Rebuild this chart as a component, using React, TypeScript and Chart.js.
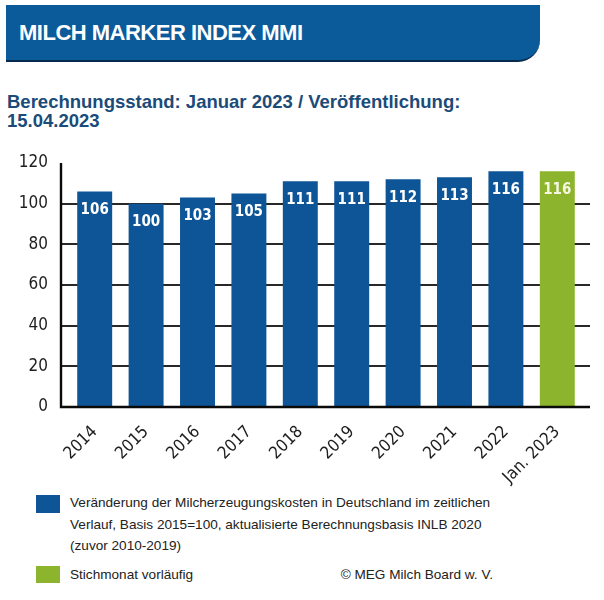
import React, { useEffect, useRef } from 'react';
import { Chart, registerables } from 'chart.js';

Chart.register(...registerables);

const categories = ['2014', '2015', '2016', '2017', '2018', '2019', '2020', '2021', '2022', 'Jan. 2023'];
const indexValues = [106, 100, 103, 105, 111, 111, 112, 113, 116, 116];
const seriesKinds = ['final', 'final', 'final', 'final', 'final', 'final', 'final', 'final', 'final', 'provisional'];
const yTickValues = [0, 20, 40, 60, 80, 100, 120];

const BLUE = '#0d5597';
const GREEN = '#8cb42c';
const CHART_FONT = '"DejaVu Sans Condensed", "DejaVu Sans", sans-serif';

function drawGrid(chart: any) {
  const { ctx, chartArea, scales } = chart;
  const y = scales.y;
  const left = chartArea.left - 8;
  const right = chartArea.right + 7;
  ctx.save();
  ctx.strokeStyle = 'rgb(40,40,40)';
  ctx.lineWidth = 2;
  yTickValues.forEach((v) => {
    if (v === yTickValues[0] || v === yTickValues[yTickValues.length - 1]) return;
    const py = Math.round(y.getPixelForValue(v));
    ctx.beginPath();
    ctx.moveTo(left, py);
    ctx.lineTo(right, py);
    ctx.stroke();
  });
  ctx.restore();
}

function drawAxes(chart: any) {
  const { ctx, chartArea, scales } = chart;
  const y = scales.y;
  const left = Math.round(chartArea.left - 8);
  const right = chartArea.right + 7;
  const y0 = Math.round(y.getPixelForValue(yTickValues[0]));
  const yTop = y.getPixelForValue(yTickValues[yTickValues.length - 1]);
  ctx.save();
  ctx.strokeStyle = 'rgb(10,10,10)';
  ctx.lineWidth = 2.4;
  ctx.beginPath();
  ctx.moveTo(left, yTop);
  ctx.lineTo(left, y0);
  ctx.lineTo(right, y0);
  ctx.stroke();
  ctx.restore();
}

function drawValueLabels(chart: any) {
  const { ctx } = chart;
  const meta = chart.getDatasetMeta(0);
  ctx.save();
  ctx.font = `bold 15px ${CHART_FONT}`;
  ctx.textAlign = 'center';
  ctx.textBaseline = 'middle';
  meta.data.forEach((el: any, i: number) => {
    ctx.fillStyle = seriesKinds[i] === 'provisional' ? '#f6f6e2' : '#ffffff';
    ctx.fillText(String(indexValues[i]), el.x, el.y + 18.5);
  });
  ctx.restore();
}

const gridPlugin = {
  id: 'customGrid',
  beforeDatasetsDraw(chart: any) {
    drawGrid(chart);
  },
  afterDatasetsDraw(chart: any) {
    drawValueLabels(chart);
  },
  afterDraw(chart: any) {
    drawAxes(chart);
  },
};

function MmiChart() {
  const ref = useRef<HTMLCanvasElement | null>(null);
  useEffect(() => {
    if (!ref.current) return;
    const chart = new Chart(ref.current, {
      type: 'bar',
      data: {
        labels: categories,
        datasets: [
          {
            data: indexValues,
            backgroundColor: seriesKinds.map((k) => (k === 'provisional' ? GREEN : BLUE)),
            barPercentage: 0.68,
            categoryPercentage: 1,
          },
        ],
      },
      options: {
        animation: false,
        responsive: false,
        maintainAspectRatio: false,
        layout: { padding: { top: 23, right: 21, left: 0, bottom: 0 } },
        plugins: {
          legend: { display: false },
          tooltip: { enabled: false },
          title: { display: false },
        },
        scales: {
          x: {
            grid: { display: false, drawTicks: false },
            border: { display: false },
            ticks: {
              minRotation: 45,
              maxRotation: 45,
              padding: 15,
              color: '#1e1e1e',
              font: { family: CHART_FONT, size: 17 },
            },
            afterFit: (s: any) => {
              s.height = 83;
            },
          },
          y: {
            min: yTickValues[0],
            max: yTickValues[yTickValues.length - 1],
            ticks: {
              stepSize: 20,
              padding: 21,
              color: '#1e1e1e',
              font: { family: CHART_FONT, size: 17 },
            },
            grid: { display: false, drawTicks: false },
            border: { display: false },
            afterFit: (s: any) => {
              s.width = 69;
              s.paddingTop = 0;
              s.paddingBottom = 0;
            },
          },
        },
      },
      plugins: [gridPlugin],
    } as any);
    return () => chart.destroy();
  }, []);
  return <canvas ref={ref} width={604} height={350} style={{ display: 'block', width: 604, height: 350 }} />;
}

export default function App() {
  const legendFont = '"Liberation Sans", Arial, sans-serif';
  return (
    <div style={{ position: 'absolute', left: 0, top: 0, width: 604, height: 600, background: '#fff', overflow: 'hidden' }}>
      <div
        style={{
          position: 'absolute',
          left: 6,
          top: 5,
          width: 534,
          height: 55,
          background: '#0b5a9a',
          borderBottom: '2px solid #072a4c',
          borderBottomRightRadius: 22,
        }}
      >
        <div
          style={{
            position: 'absolute',
            left: 13,
            top: 15,
            color: '#fff',
            fontFamily: '"Liberation Sans", Arial, sans-serif',
            fontWeight: 'bold',
            fontSize: 22,
            letterSpacing: -0.5,
            lineHeight: '26px',
            whiteSpace: 'nowrap',
          }}
        >
          MILCH MARKER INDEX MMI
        </div>
      </div>
      <div
        style={{
          position: 'absolute',
          left: 7,
          top: 92,
          color: '#1b4b78',
          fontFamily: '"Liberation Sans", Arial, sans-serif',
          fontWeight: 'bold',
          fontSize: 18.5,
          lineHeight: '19px',
          whiteSpace: 'nowrap',
        }}
      >
        Berechnungsstand: Januar 2023 / Veröffentlichung:
        <br />
        15.04.2023
      </div>
      <div style={{ position: 'absolute', left: 0, top: 140 }}>
        <MmiChart />
      </div>
      <div style={{ position: 'absolute', left: 36, top: 495, width: 24, height: 18, background: BLUE }} />
      <div
        style={{
          position: 'absolute',
          left: 70,
          top: 492,
          color: '#222',
          fontFamily: legendFont,
          fontSize: 13.6,
          lineHeight: '21.5px',
          whiteSpace: 'nowrap',
        }}
      >
        Veränderung der Milcherzeugungskosten in Deutschland im zeitlichen
        <br />
        Verlauf, Basis 2015=100, aktualisierte Berechnungsbasis INLB 2020
        <br />
        (zuvor 2010-2019)
      </div>
      <div style={{ position: 'absolute', left: 36, top: 566, width: 24, height: 17, background: GREEN }} />
      <div
        style={{
          position: 'absolute',
          left: 70,
          top: 564,
          color: '#222',
          fontFamily: legendFont,
          fontSize: 13.6,
          lineHeight: '21.5px',
          whiteSpace: 'nowrap',
        }}
      >
        Stichmonat vorläufig
      </div>
      <div
        style={{
          position: 'absolute',
          left: 340,
          top: 564,
          width: 153,
          textAlign: 'right',
          color: '#222',
          fontFamily: legendFont,
          fontSize: 13.6,
          lineHeight: '21.5px',
          whiteSpace: 'nowrap',
        }}
      >
        © MEG Milch Board w. V.
      </div>
    </div>
  );
}
